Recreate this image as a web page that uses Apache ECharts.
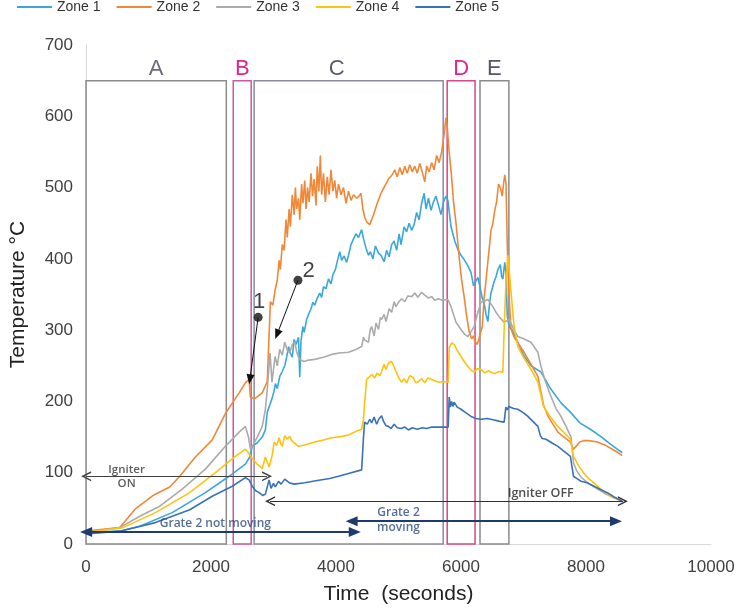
<!DOCTYPE html>
<html><head><meta charset="utf-8">
<script src="https://cdn.jsdelivr.net/npm/echarts@6/dist/echarts.min.js"></script>
<style>html,body{margin:0;padding:0;background:#fff}#c{width:738px;height:610px}</style>
</head><body><div id="c"></div>
<script>
// ---------- data (time in s, temperature in °C) ----------
const zoneNames = ['Zone 1', 'Zone 2', 'Zone 3', 'Zone 4', 'Zone 5'];
const zoneColors = ['#3BA7DC', '#F0883A', '#ABABAB', '#FFC20E', '#3A72B8'];

const zone1 = [[0,16],[540,18],[860,25],[1380,44],[1910,72],[2290,95],[2550,112],[2620,122],[2660,137],[2740,142],[2820,150],[2870,160],[2900,185],[2940,195],[2980,205],[3010,215],[3030,225],[3060,218],[3100,235],[3140,242],[3180,250],[3210,262],[3240,277],[3270,268],[3300,262],[3330,287],[3360,280],[3400,290],[3420,234],[3440,285],[3470,305],[3490,297],[3530,315],[3560,322],[3600,330],[3630,339],[3660,335],[3700,345],[3740,352],[3770,346],[3800,361],[3840,358],[3880,372],[3920,365],[3950,378],[3990,385],[4030,400],[4060,410],[4090,398],[4130,404],[4170,395],[4200,405],[4240,420],[4280,428],[4320,435],[4360,430],[4410,441],[4440,428],[4480,415],[4520,405],[4550,410],[4590,400],[4630,418],[4680,408],[4720,405],[4770,396],[4810,412],[4850,403],[4890,420],[4930,425],[4970,412],[5010,435],[5040,420],[5090,445],[5130,438],[5170,450],[5210,440],[5250,448],[5290,465],[5330,455],[5370,478],[5410,492],[5440,470],[5480,485],[5520,468],[5560,480],[5600,488],[5640,475],[5680,462],[5720,480],[5760,488],[5790,482],[5840,445],[5900,425],[5950,413],[6000,405],[6050,399],[6100,392],[6160,381],[6200,362],[6230,360],[6270,374],[6300,362],[6340,345],[6370,338],[6400,322],[6430,312],[6460,340],[6480,352],[6530,368],[6560,375],[6590,385],[6630,392],[6650,375],[6670,372],[6700,395],[6720,380],[6740,320],[6770,305],[6820,300],[6910,283],[7000,265],[7120,250],[7280,241],[7440,217],[7600,198],[7750,185],[7900,170],[8070,161],[8250,150],[8390,140],[8500,133],[8580,128]];

const zone2 = [[0,18],[540,23],[800,50],[1070,68],[1340,80],[1500,95],[1750,122],[2020,146],[2230,183],[2450,212],[2550,226],[2610,231],[2630,206],[2700,204],[2820,212],[2900,228],[2930,295],[2950,340],[2990,335],[3025,356],[3060,370],[3090,398],[3110,385],[3140,420],[3170,412],[3200,455],[3220,430],[3250,470],[3270,445],[3300,490],[3330,462],[3350,500],[3370,470],[3400,485],[3420,455],[3450,505],[3470,478],[3500,510],[3520,470],[3545,500],[3570,480],[3600,520],[3625,488],[3650,512],[3680,475],[3700,530],[3725,495],[3750,545],[3770,490],[3800,520],[3830,480],[3860,515],[3890,490],[3920,525],[3950,495],[3980,510],[4010,485],[4040,505],[4080,490],[4120,500],[4160,478],[4200,495],[4240,482],[4280,490],[4330,485],[4370,488],[4400,492],[4430,470],[4460,458],[4490,452],[4540,448],[4600,462],[4660,478],[4720,492],[4780,502],[4840,512],[4900,518],[4940,525],[4980,515],[5020,528],[5060,518],[5100,530],[5140,520],[5180,532],[5220,522],[5260,530],[5300,520],[5340,534],[5380,522],[5420,508],[5450,530],[5490,522],[5530,535],[5570,525],[5610,545],[5650,535],[5690,550],[5730,575],[5760,598],[5780,585],[5810,550],[5845,520],[5880,480],[5920,450],[5970,403],[6010,370],[6050,347],[6090,320],[6130,298],[6170,288],[6200,292],[6225,284],[6260,280],[6300,292],[6340,305],[6370,345],[6400,370],[6440,405],[6480,440],[6510,450],[6540,468],[6570,480],[6600,505],[6630,500],[6660,488],[6680,505],[6700,518],[6720,505],[6740,420],[6760,360],[6800,302],[6850,290],[6910,282],[7000,270],[7100,255],[7230,235],[7320,195],[7400,178],[7550,157],[7650,150],[7750,143],[7800,133],[7850,138],[7900,143],[7960,145],[8050,145],[8180,143],[8300,139],[8400,134],[8500,129],[8580,124]];

const zone3 = [[0,16],[540,23],[860,39],[1180,53],[1540,77],[1910,105],[2230,137],[2450,157],[2550,165],[2600,150],[2630,133],[2660,137],[2740,150],[2820,165],[2870,189],[2900,217],[2945,268],[2975,227],[3025,263],[3060,250],[3100,273],[3140,265],[3180,283],[3220,272],[3260,268],[3300,280],[3340,283],[3370,270],[3400,262],[3440,258],[3490,256],[3560,258],[3660,259],[3800,262],[3930,266],[4050,268],[4200,269],[4300,272],[4410,277],[4440,290],[4460,286],[4520,283],[4545,300],[4570,305],[4610,292],[4640,310],[4680,301],[4710,318],[4730,315],[4770,322],[4800,312],[4850,330],[4890,325],[4930,340],[4960,333],[5000,339],[5050,344],[5100,340],[5150,348],[5210,347],[5260,352],[5310,346],[5370,353],[5420,349],[5480,345],[5530,347],[5580,342],[5640,344],[5700,342],[5790,343],[5840,333],[5920,311],[6000,301],[6060,294],[6110,291],[6160,298],[6210,305],[6260,322],[6320,339],[6380,341],[6430,343],[6510,333],[6560,325],[6610,319],[6690,311],[6770,315],[6850,300],[6910,291],[7000,288],[7120,283],[7230,269],[7280,249],[7350,228],[7440,207],[7520,190],[7600,179],[7680,165],[7760,150],[7800,114],[7850,103],[7920,94],[8020,86],[8150,79],[8280,72],[8420,66],[8580,60]];

const zone4 = [[0,16],[590,23],[1110,44],[1660,72],[2070,100],[2390,123],[2550,133],[2600,128],[2660,120],[2740,112],[2820,106],[2870,122],[2930,108],[2980,125],[3010,143],[3050,138],[3090,149],[3120,140],[3140,137],[3180,152],[3220,147],[3260,151],[3300,144],[3330,143],[3400,137],[3500,139],[3660,143],[3800,146],[3930,149],[4100,151],[4200,153],[4320,158],[4410,161],[4440,175],[4460,200],[4490,231],[4530,234],[4570,238],[4620,233],[4660,240],[4700,236],[4730,242],[4770,252],[4800,245],[4840,254],[4890,256],[4930,248],[4970,240],[5010,232],[5050,227],[5090,232],[5130,226],[5180,236],[5230,234],[5280,226],[5320,228],[5370,232],[5420,226],[5470,233],[5520,231],[5580,229],[5650,227],[5720,228],[5795,227],[5811,275],[5850,282],[5890,280],[5950,270],[6000,263],[6060,255],[6110,249],[6160,244],[6210,241],[6260,246],[6320,245],[6380,240],[6440,243],[6480,241],[6540,239],[6600,242],[6670,241],[6690,300],[6720,370],[6750,405],[6770,385],[6800,353],[6850,305],[6910,277],[7000,262],[7120,245],[7230,227],[7320,193],[7430,178],[7550,165],[7650,156],[7750,147],[7800,123],[7880,110],[7960,100],[8040,92],[8120,86],[8250,76],[8400,67],[8580,60]];

const zone5 = [[0,14],[540,18],[1110,30],[1660,48],[2020,67],[2340,81],[2550,93],[2610,90],[2660,81],[2710,75],[2770,72],[2830,68],[2870,70],[2930,90],[2960,78],[3000,85],[3030,80],[3080,88],[3120,84],[3180,91],[3250,86],[3330,84],[3500,86],[3700,89],[3900,92],[4040,95],[4200,99],[4410,104],[4440,150],[4458,171],[4500,168],[4540,175],[4570,170],[4610,178],[4650,168],[4690,176],[4730,180],[4760,172],[4800,166],[4840,165],[4880,162],[4930,168],[4980,163],[5040,162],[5100,164],[5160,160],[5220,163],[5300,161],[5380,163],[5450,162],[5530,164],[5650,164],[5795,164],[5811,206],[5830,192],[5850,200],[5870,193],[5890,199],[5940,192],[6000,189],[6080,184],[6160,179],[6240,176],[6320,175],[6420,176],[6530,174],[6620,172],[6690,171],[6718,192],[6740,188],[6766,193],[6840,190],[6910,189],[7000,184],[7070,179],[7150,172],[7230,165],[7270,152],[7300,148],[7360,147],[7450,142],[7550,137],[7650,130],[7750,123],[7800,95],[7850,92],[7920,88],[8020,86],[8150,80],[8340,72],[8450,66],[8580,60]];

const zoneData = [zone1, zone2, zone3, zone4, zone5];

// phase boxes: [label, tStart, tEnd]
const phaseNames = ['A', 'B', 'C', 'D', 'E'];
const phaseStart = [0, 2356, 2690, 5779, 6304];
const phaseEnd = [2245, 2643, 5715, 6225, 6766];
const phaseTop = 650;
const phaseBottom = -5;

// axis ticks
const xMin = 0, xMax = 10000, xStep = 2000;
const yMin = 0, yMax = 700, yStep = 100;

// ---------- styling ----------
const boxBorder = ['#8b8b8b', '#c65aa6', '#8e8aa0', '#d9468a', '#8b8b8b'];
const boxText = ['#6d6a7e', '#e0268c', '#5b5b6b', '#e0268c', '#555566'];
const boxLabelOffset = [[0,0],[0,0],[-12,0],[0,0],[0,0]];

const chevron = 'path://M0,10 L5,0 L10,10 L8.4,10 L5,3.2 L1.6,10 Z';
const navy = '#1f3a6e';

const markAreaData = phaseNames.map((n, i) => [
  { name: n, coord: [phaseStart[i], phaseBottom],
    itemStyle: { color: 'rgba(0,0,0,0)', borderColor: boxBorder[i], borderWidth: 1.5 },
    label: { show: true, position: 'top', distance: 0, fontSize: 22, color: boxText[i],
             fontFamily: 'Liberation Sans', offset: boxLabelOffset[i] } },
  { coord: [phaseEnd[i], phaseTop] }
]);

function arrow(p0, p1, color, width, symbols, size) {
  return [
    { coord: p0, symbol: symbols[0], symbolSize: size, lineStyle: { color, width, type: 'solid' } },
    { coord: p1, symbol: symbols[1], symbolSize: size }
  ];
}

const markLineData = [
  arrow([2, 95], [2897, 95], '#404040', 1, [chevron, chevron], 10),
  arrow([2945, 60], [8590, 60], '#303030', 1.2, [chevron, chevron], 10),
  arrow([2, 17], [4300, 17], navy, 2, ['triangle', 'triangle'], [10, 12]),
  arrow([4250, 32], [8480, 32], navy, 2, ['triangle', 'triangle'], [10, 12]),
  arrow([2754, 318], [2622, 231], '#111', 1, ['none', 'triangle'], [8, 10]),
  arrow([3391, 370], [3057, 294], '#111', 1, ['none', 'triangle'], [8, 10])
];

const noteStyle = { fontFamily: 'Open Sans', fontWeight: 600, fontSize: 11.5, color: '#333', lineHeight: 14 };
const notes = [
  { name: 'Igniter\nON', value: [650, 95], label: { ...noteStyle } },
  { name: 'Igniter OFF', value: [7275, 71], label: { ...noteStyle, fontSize: 12.5, color: '#222' } },
  { name: 'Grate 2 not moving', value: [2070, 28], label: { ...noteStyle, fontSize: 12, color: '#2b4a7f' } },
  { name: 'Grate 2\nmoving', value: [5000, 33], label: { ...noteStyle, fontSize: 12, lineHeight: 15, color: '#2b4a7f' } },
  { name: '1', value: [2770, 340], label: { fontFamily: 'Liberation Sans', fontSize: 22, color: '#111' } },
  { name: '2', value: [3560, 383], label: { fontFamily: 'Liberation Sans', fontSize: 22, color: '#111' } }
];
const dots = [[2754, 318], [3391, 370]];

const series = zoneNames.map((n, i) => ({
  name: n, type: 'line', data: zoneData[i], showSymbol: false, symbol: 'none',
  lineStyle: { color: zoneColors[i], width: 1.6 }, itemStyle: { color: zoneColors[i] },
  emphasis: { disabled: true }, z: 3
}));

series.push({
  name: 'phases', type: 'line', data: [], clip: false, silent: true, z: 2,
  markArea: { silent: true, data: markAreaData },
  markLine: { silent: true, animation: false, label: { show: false }, emphasis: { disabled: true },
              data: markLineData }
});
series.push({
  name: 'dots', type: 'scatter', data: dots, symbolSize: 9, itemStyle: { color: '#111' }, silent: true, z: 5
});
series.push({
  name: 'notes', type: 'scatter', data: notes, symbolSize: 0, silent: true, z: 6,
  label: { show: true, position: 'inside', formatter: '{b}' }
});

const chart = echarts.init(document.getElementById('c'), null, { renderer: 'canvas' });
chart.setOption({
  animation: false,
  backgroundColor: '#fff',
  textStyle: { fontFamily: 'Liberation Sans' },
  legend: {
    data: zoneNames, top: 0, left: 17, padding: 0, itemGap: 16, itemWidth: 35, itemHeight: 2,
    icon: 'rect', textStyle: { fontSize: 14, color: '#333', fontFamily: 'Liberation Sans' }
  },
  grid: { left: 83, right: 27, top: 45, bottom: 65, containLabel: false },
  xAxis: {
    type: 'value', min: xMin, max: xMax, interval: xStep,
    axisLine: { show: true, lineStyle: { color: '#d9d9d9', width: 1 } },
    axisTick: { show: false }, splitLine: { show: false },
    axisLabel: { fontSize: 17, color: '#404040', margin: 15, fontFamily: 'Liberation Sans',
                 formatter: v => String(v) },
    name: 'Time  (seconds)', nameLocation: 'middle', nameGap: 40,
    nameTextStyle: { fontSize: 21, color: '#222', fontFamily: 'Liberation Sans' }
  },
  yAxis: {
    type: 'value', min: yMin, max: yMax, interval: yStep,
    axisLine: { show: true, lineStyle: { color: '#d9d9d9', width: 1 } },
    axisTick: { show: false }, splitLine: { show: false },
    axisLabel: { fontSize: 17, color: '#404040', margin: 13, fontFamily: 'Liberation Sans' },
    name: 'Temperature °C', nameLocation: 'middle', nameGap: 57, nameRotate: 90,
    nameTextStyle: { fontSize: 21, color: '#222', fontFamily: 'Liberation Sans' }
  },
  series
});
</script></body></html>
